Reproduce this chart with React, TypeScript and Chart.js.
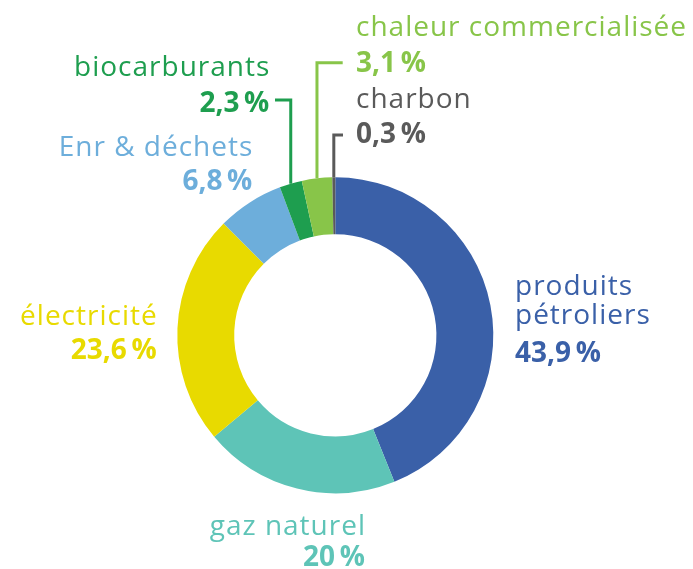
import React, { useEffect, useRef } from "react";
import { Chart, registerables } from "chart.js";

Chart.register(...registerables);

const categories = [
  "produits pétroliers",
  "gaz naturel",
  "électricité",
  "Enr & déchets",
  "biocarburants",
  "chaleur commercialisée",
  "charbon",
];
const nameLines = [
  ["produits", "pétroliers"],
  ["gaz naturel"],
  ["électricité"],
  ["Enr & déchets"],
  ["biocarburants"],
  ["chaleur commercialisée"],
  ["charbon"],
];
const shares = [43.9, 20, 23.6, 6.8, 2.3, 3.1, 0.3];
const colors = ["#3A60A8", "#5EC4B7", "#E8DA00", "#6DAEDB", "#1E9E4F", "#88C549", "#5A5A5A"];

const FONT = '"Open Sans", sans-serif';
const SIZE = 28;

// label layout relative to chart centre (layout only)
const labelLayout = [
  { x: 179.7, align: "left", ys: [-40.3, -11, 26.4] },
  { x: 29.7, align: "right", ys: [199.7, 230.4] },
  { x: -178.6, align: "right", ys: [-10.3, 24] },
  { x: -83, align: "right", ys: [-179.3, -145.3] },
  { x: -66, align: "right", ys: [-259.3, -223.6] },
  { x: 20.7, align: "left", ys: [-299.3, -263.6] },
  { x: 20.7, align: "left", ys: [-227, -192] },
];
// leader lines: elbow y and horizontal end x relative to centre
const leaders: Record<number, { ey: number; ex: number }> = {
  4: { ey: -235.3, ex: -60.3 },
  5: { ey: -272.6, ex: 7.4 },
  6: { ey: -200.3, ex: 7.7 },
};

const fmt = (v: number) => v.toString().replace(".", ",") + "\u2009%";

const labelPlugin = {
  id: "outerLabels",
  afterDatasetsDraw(chart: any) {
    const ctx = chart.ctx;
    const meta = chart.getDatasetMeta(0);
    const first = meta.data[0];
    const cx = first.x;
    const cy = first.y;
    ctx.save();
    meta.data.forEach((arc: any, i: number) => {
      const color = colors[i];
      const lay = labelLayout[i];
      ctx.fillStyle = color;
      ctx.textBaseline = "alphabetic";
      const lines = [...nameLines[i], fmt(shares[i])];
      lines.forEach((t, k) => {
        const bold = k === lines.length - 1;
        ctx.font = `${bold ? "700" : "400"} ${SIZE}px ${FONT}`;
        const ls = bold ? 0 : 1;
        (ctx as any).letterSpacing = ls + "px";
        ctx.textAlign = "left";
        const w = ctx.measureText(t).width - ls;
        const x = lay.align === "right" ? cx + lay.x - w : cx + lay.x;
        ctx.fillText(t, x, cy + lay.ys[k]);
      });
      (ctx as any).letterSpacing = "0px";
      const ld = leaders[i];
      if (ld) {
        const mid = (arc.startAngle + arc.endAngle) / 2;
        const r = arc.outerRadius;
        const px = cx + Math.cos(mid) * r;
        const py = cy + Math.sin(mid) * r;
        ctx.strokeStyle = color;
        ctx.lineWidth = 3;
        ctx.lineJoin = "miter";
        ctx.lineCap = "butt";
        ctx.beginPath();
        ctx.moveTo(px, py);
        ctx.lineTo(px, cy + ld.ey);
        ctx.lineTo(cx + ld.ex, cy + ld.ey);
        ctx.stroke();
      }
    });
    ctx.restore();
  },
};

export default function App() {
  const ref = useRef<HTMLCanvasElement>(null);
  useEffect(() => {
    document.body.style.margin = "0";
    const chart = new Chart(ref.current!, {
      type: "doughnut",
      data: {
        labels: categories,
        datasets: [
          {
            data: shares,
            backgroundColor: colors,
            borderWidth: 0,
          },
        ],
      },
      options: {
        responsive: false,
        animation: false,
        cutout: "64%",
        rotation: 0,
        layout: { padding: { left: 177.3, right: 199.7, top: 177.3, bottom: 75.7 } },
        plugins: { legend: { display: false }, tooltip: { enabled: false } },
      },
      plugins: [labelPlugin],
    });
    return () => chart.destroy();
  }, []);
  return (
    <div style={{ position: "absolute", left: 0, top: 0, width: 693, height: 569, background: "#fff" }}>
      <canvas ref={ref} width={693} height={569} />
    </div>
  );
}
